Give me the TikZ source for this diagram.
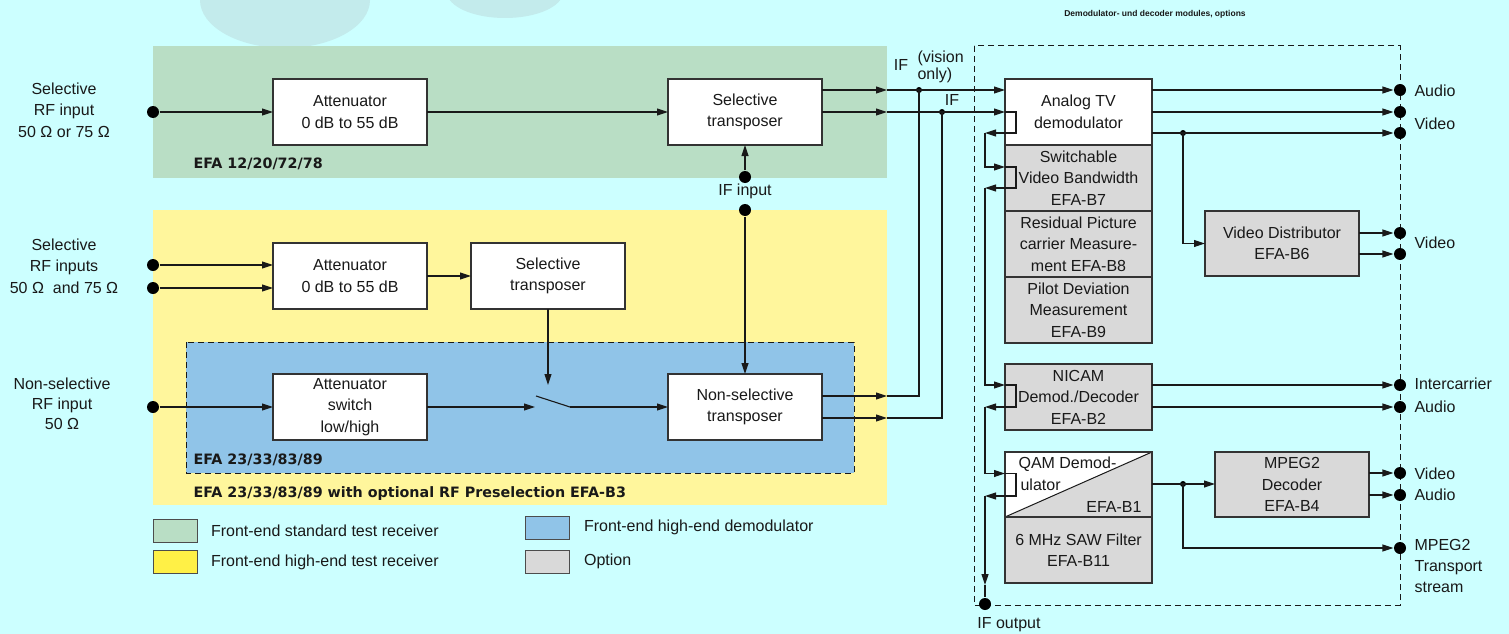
\documentclass[tikz,border=0pt]{standalone}
\usepackage{fontspec}
\setmainfont{Liberation Sans}
\newfontfamily\efafont{DejaVu Sans}
\usetikzlibrary{arrows.meta,positioning}
\definecolor{bgcyan}{HTML}{CCFFFF}
\definecolor{haze}{HTML}{C3EBEC}
\definecolor{frgreen}{HTML}{B9DEC5}
\definecolor{fryellow}{HTML}{FFF69C}
\definecolor{frblue}{HTML}{90C4E8}
\definecolor{optgray}{HTML}{D9D9D9}
\definecolor{legyellow}{HTML}{FFF046}
\tikzset{blk/.style={draw=black!80, line width=1.2pt, fill=white, minimum width=147pt, minimum height=66pt, inner sep=0pt, outer sep=0pt, align=center}}
\tikzset{opt/.style={blk, fill=optgray}}
\tikzset{port/.style={circle, fill=black, inner sep=0pt, minimum size=12pt}}
\tikzset{jn/.style={circle, fill=black, inner sep=0pt, minimum size=6pt}}
\tikzset{sig/.style={-{Triangle[length=11pt,width=7pt]}}}
\tikzset{lbl/.style={align=center, inner sep=0pt}}
\tikzset{efa/.style={font=\efafont\bfseries\fontsize{14.3}{16}\selectfont, inner sep=0pt, anchor=base west}}
\tikzset{legbox/.style={draw=black!70, line width=1pt, minimum width=44pt, minimum height=23pt, inner sep=0pt}}
\begin{document}
\begin{tikzpicture}[x=1pt, y=-1pt, line width=1.1pt, color=black!90, font=\fontsize{16}{21.5}\selectfont]
  % background, faint shapes at the top
  \useasboundingbox[fill=bgcyan] (0,0) rectangle (1509,634);
  \fill[haze] (285,0) ellipse [x radius=85pt, y radius=48pt];
  \fill[haze] (505,-8) ellipse [x radius=58pt, y radius=26pt];

  % front-end areas
  \fill[frgreen] (153,46) rectangle (887,178);
  \fill[fryellow] (153,210) rectangle (887,505);
  \draw[dashed, dash pattern=on 6pt off 4pt, fill=frblue, line width=1pt] (186,342) rectangle (854,473);
  \draw[dashed, dash pattern=on 6pt off 4pt, line width=1pt] (974,46) rectangle (1400,605);
  \node[efa] (efagreen) at (193,168) {EFA 12/20/72/78};
  \node[efa] (efablue) at (193,464) {EFA 23/33/83/89};
  \node[efa] (efayellow) at (193,497) {EFA 23/33/83/89 with optional RF Preselection EFA-B3};
  \node[font=\bfseries\fontsize{8.5}{10}\selectfont] (title) at (1155,14) {Demodulator- und decoder modules, options};

  % standard front-end
  \node[port] (in1) at (153,112) {};
  \node[lbl] (in1txt) at (64,110) {Selective\\RF input\\50 Ω or 75 Ω};
  \node[blk, minimum width=154pt] (att1) at (350,112) {Attenuator\\0 dB to 55 dB};
  \node[blk, minimum width=154pt] (selt1) at (745,112) {Selective\\transposer};
  \draw[sig] (in1) -- (att1);
  \draw[sig] (att1) -- (selt1);

  % IF input
  \node[port] (ifin1) at (745,177) {};
  \node[port] (ifin2) at (745,210) {};
  \node[lbl] (ifintxt) at (745,191) {IF input};
  \draw[sig] (ifin1) -- (selt1);

  % high-end front-end
  \node[port] (in2a) at (153,265) {};
  \node[port] (in2b) at (153,288) {};
  \node[lbl] (in2txt) at (64,266) {Selective\\RF inputs\\50 Ω~ and 75 Ω};
  \node[blk, minimum width=154pt] (att2) at (350,276) {Attenuator\\0 dB to 55 dB};
  \node[blk, minimum width=154pt] (selt2) at (548,276) {Selective\\transposer};
  \draw[sig] (in2a) -- (att2.west |- in2a);
  \draw[sig] (in2b) -- (att2.west |- in2b);
  \draw[sig] (att2) -- (selt2);

  \node[port] (in3) at (153,407) {};
  \node[lbl, font=\fontsize{16}{20}\selectfont] (in3txt) at (62,404) {Non-selective\\RF input\\50 Ω};
  \node[blk, minimum width=154pt] (att3) at (350,407) {Attenuator\\switch\\low/high};
  \node[blk, minimum width=154pt] (nselt) at (745,407) {Non-selective\\transposer};
  \coordinate (sw1) at (535,407);
  \coordinate (sw2) at (570,407);
  \coordinate (swt) at (536,396);
  \coordinate (swd) at (548,385);
  \draw[sig] (in3) -- (att3);
  \draw[sig] (att3) -- (sw1);
  \draw (swt) -- (sw2);
  \draw[sig] (sw2) -- (nselt);
  \draw[sig] (selt2) -- (swd);
  \draw[sig] (ifin2) -- (nselt);

  % IF to the modules
  \coordinate (g1) at (887,90);
  \coordinate (g2) at (887,112);
  \coordinate (b1) at (887,396);
  \coordinate (b2) at (887,418);
  \node[jn] (ja) at (919,90) {};
  \node[jn] (jb) at (942,112) {};
  \node[lbl] (iftxt1) at (901,65) {IF};
  \node[lbl, align=left, anchor=west, font=\fontsize{16}{17}\selectfont] (vistxt) at (917,67) {(vision\\only)};
  \node[lbl] (iftxt2) at (952,100) {IF};
  \draw[sig] (selt1.east |- g1) -- (g1);
  \draw[sig] (selt1) -- (g2);
  \draw[sig] (nselt.east |- b1) -- (b1);
  \draw[sig] (nselt.east |- b2) -- (b2);
  \draw (ja.center) |- (b1);
  \draw (jb.center) |- (b2);

  % demodulator and decoder modules
  \node[blk] (atv) at (1078.5,112) {Analog TV\\demodulator};
  \node[opt, below=0pt of atv] (vbw) {Switchable\\Video Bandwidth\\EFA-B7};
  \node[opt, below=0pt of vbw] (rpc) {Residual Picture\\carrier Measure-\\ment EFA-B8};
  \node[opt, below=0pt of rpc] (pdm) {Pilot Deviation\\Measurement\\EFA-B9};
  \node[opt] (nicam) at (1078.5,397) {NICAM\\Demod./Decoder\\EFA-B2};
  \node[opt, minimum height=65pt] (qam) at (1078.5,484.5) {};
  \fill[white] (qam.south west) -- (qam.north west) -- (qam.north east) -- cycle;
  \draw[line width=1pt] (qam.south west) -- (qam.north east);
  \draw[draw=black!80, line width=1.2pt] (qam.south west) rectangle (qam.north east);
  \node[lbl, anchor=base west] (qamt1) at ([xshift=13pt,yshift=-16.5pt]qam.north west) {QAM Demod-};
  \node[lbl, anchor=base west] (qamt2) at ([xshift=15pt,yshift=-38pt]qam.north west) {ulator};
  \node[lbl, anchor=base east] (qamt3) at ([xshift=-10pt,yshift=-60pt]qam.north east) {EFA-B1};
  \node[opt, below=0pt of qam] (saw) {6 MHz SAW Filter\\EFA-B11};
  \node[opt, minimum width=154pt, minimum height=65pt] (vdist) at (1282,243.5) {Video Distributor\\EFA-B6};
  \node[opt, minimum width=154pt, minimum height=65pt] (mpeg) at (1292,484.5) {MPEG2\\Decoder\\EFA-B4};
  \draw[sig] (g1) -- (atv.west |- g1);
  \draw[sig] (g2) -- (atv);

  % loop of the IF through the modules
  \coordinate (l1) at (985,133);
  \coordinate (l2) at (985,188);
  \coordinate (l3) at (985,407);
  \coordinate (l4) at (985,496);
  \coordinate (ifarr) at (985,585);
  \node[port] (ifout) at (985,604) {};
  \node[lbl] (ifouttxt) at (1009,625) {IF output};
  \draw[sig] (atv.west) -- ++(11,0) |- (l1);
  \draw[sig] (l1) |- ([yshift=11pt]vbw.west);
  \draw[sig] ([yshift=11pt]vbw.west) -- ++(11,0) |- (l2);
  \draw[sig] (l2) |- ([yshift=12pt]nicam.west);
  \draw[sig] ([yshift=12pt]nicam.west) -- ++(11,0) |- (l3);
  \draw[sig] (l3) |- ([yshift=11pt]qam.west);
  \draw[sig] ([yshift=11pt]qam.west) -- ++(11,0) |- (l4);
  \draw[sig] (l4) -- (ifarr);
  \draw (ifarr) -- (ifout);

  % outputs
  \node[port] (oaud1) at (1400,90) {};
  \node[port] (ovid1) at (1400,112) {};
  \node[port] (ovid2) at (1400,133) {};
  \node[port] (ovid3) at (1400,233) {};
  \node[port] (ovid4) at (1400,254) {};
  \node[port] (oic) at (1400,385) {};
  \node[port] (oaud2) at (1400,407) {};
  \node[port] (ovid5) at (1400,473) {};
  \node[port] (oaud3) at (1400,495) {};
  \node[port] (ots) at (1400,548) {};
  \node[jn] (jv) at (1183,133) {};
  \node[jn] (jq) at (1183,484) {};
  \draw[sig] (atv.east |- oaud1) -- (oaud1);
  \draw[sig] (atv) -- (ovid1);
  \draw[sig] (atv.east |- ovid2) -- (ovid2);
  \draw[sig] (jv.center) |- (vdist);
  \draw[sig] (vdist.east |- ovid3) -- (ovid3);
  \draw[sig] (vdist.east |- ovid4) -- (ovid4);
  \draw[sig] (nicam.east |- oic) -- (oic);
  \draw[sig] (nicam.east |- oaud2) -- (oaud2);
  \draw (qam.east |- jq) -- (jq.center);
  \draw[sig] (jq.center) -- (mpeg.west |- jq);
  \draw[sig] (jq.center) |- (ots);
  \draw[sig] (mpeg.east |- ovid5) -- (ovid5);
  \draw[sig] (mpeg.east |- oaud3) -- (oaud3);
  \node[lbl, anchor=west] (oaud1txt) at (1414,91) {Audio};
  \node[lbl, anchor=west] (ovidtxt) at (1414,124) {Video};
  \node[lbl, anchor=west] (ovid3txt) at (1414,243) {Video};
  \node[lbl, anchor=west] (oictxt) at (1414,384) {Intercarrier};
  \node[lbl, anchor=west] (oaud2txt) at (1414,407) {Audio};
  \node[lbl, anchor=west] (ovid5txt) at (1414,474) {Video};
  \node[lbl, anchor=west] (oaud3txt) at (1414,495) {Audio};
  \node[lbl, anchor=west, align=left, font=\fontsize{16}{21}\selectfont] (otstxt) at (1414,566) {MPEG2\\Transport\\stream};

  % legend
  \node[legbox, fill=frgreen] (lg1) at (175,530.5) {};
  \node[legbox, fill=legyellow] (lg2) at (175,562) {};
  \node[legbox, fill=frblue] (lg3) at (547,527.5) {};
  \node[legbox, fill=optgray] (lg4) at (547,561.5) {};
  \node[lbl, right=13pt of lg1] (lg1txt) {Front-end standard test receiver};
  \node[lbl, right=13pt of lg2] (lg2txt) {Front-end high-end test receiver};
  \node[lbl, right=14pt of lg3] (lg3txt) {Front-end high-end demodulator};
  \node[lbl, right=14pt of lg4] (lg4txt) {Option};
\end{tikzpicture}
\end{document}
